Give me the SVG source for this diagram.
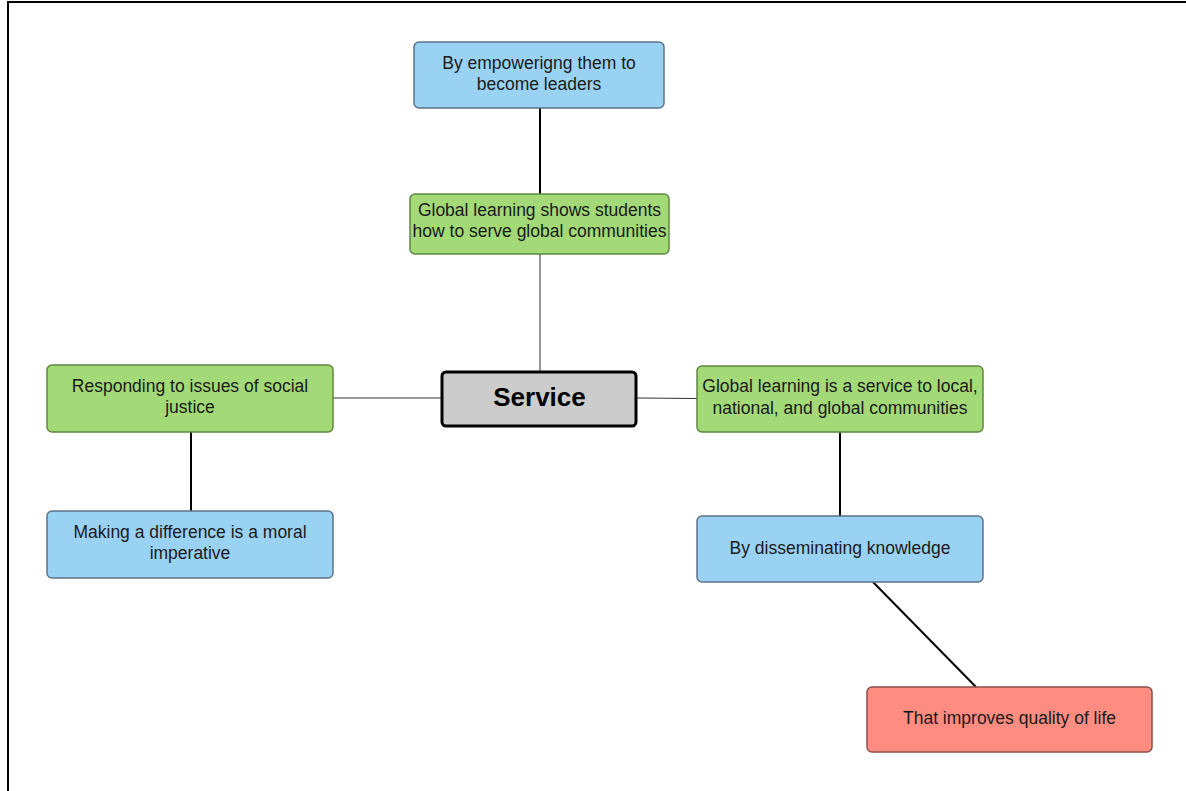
<svg xmlns="http://www.w3.org/2000/svg" width="1186" height="791" viewBox="0 0 1186 791">
<style>
.t{font-family:"Liberation Sans",Arial,sans-serif;font-size:17.5px;fill:#1a1a1a;text-anchor:middle}
.blue{fill:#9ad2f4;stroke:#5c7387;stroke-width:1.5}
.green{fill:#a3d977;stroke:#5f8740;stroke-width:1.5}
.red{fill:#ff8c80;stroke:#8a4f4a;stroke-width:1.5}
.thick{stroke:#000;stroke-width:2;fill:none}
.thin{stroke:#333;stroke-width:1;fill:none}
</style>
<rect width="1186" height="791" fill="#fff"/>
<path d="M8,791 V2 H1186" fill="none" stroke="#000" stroke-width="2"/>
<g id="connectors">
<line class="thick" x1="540" y1="108" x2="540" y2="194"/>
<line class="thin" x1="540" y1="254" x2="540" y2="371"/>
<line class="thin" x1="333" y1="398" x2="441" y2="398"/>
<line class="thin" x1="637" y1="398" x2="697" y2="398.5"/>
<line class="thick" x1="191" y1="432" x2="191" y2="511"/>
<line class="thick" x1="840" y1="432" x2="840" y2="516"/>
<line class="thick" x1="873" y1="582" x2="976" y2="687"/>
</g>
<g id="n-leaders">
<rect class="blue" x="414" y="42" width="250" height="66" rx="5"/>
<text class="t" x="539" y="69">By empowerigng them to</text>
<text class="t" x="539" y="90">become leaders</text>
</g>
<g id="n-serve">
<rect class="green" x="410" y="194" width="259" height="60" rx="5"/>
<text class="t" x="539.5" y="216">Global learning shows students</text>
<text class="t" x="539.5" y="237">how to serve global communities</text>
</g>
<g id="n-service">
<rect x="442" y="372" width="194" height="54" rx="4" fill="#cccccc" stroke="#000" stroke-width="3"/>
<text class="t" x="539.5" y="406" style="font-size:26px;font-weight:bold;fill:#000">Service</text>
</g>
<g id="n-justice">
<rect class="green" x="47" y="365" width="286" height="67" rx="5"/>
<text class="t" x="190" y="392">Responding to issues of social</text>
<text class="t" x="190" y="413">justice</text>
</g>
<g id="n-moral">
<rect class="blue" x="47" y="511" width="286" height="67" rx="5"/>
<text class="t" x="190" y="538">Making a difference is a moral</text>
<text class="t" x="190" y="559">imperative</text>
</g>
<g id="n-local">
<rect class="green" x="697" y="366" width="286" height="66" rx="5"/>
<text class="t" x="840" y="392">Global learning is a service to local,</text>
<text class="t" x="840" y="414">national, and global communities</text>
</g>
<g id="n-knowledge">
<rect class="blue" x="697" y="516" width="286" height="66" rx="5"/>
<text class="t" x="840" y="554">By disseminating knowledge</text>
</g>
<g id="n-quality">
<rect class="red" x="867" y="687" width="285" height="65" rx="5"/>
<text class="t" x="1009.5" y="724">That improves quality of life</text>
</g>
</svg>
